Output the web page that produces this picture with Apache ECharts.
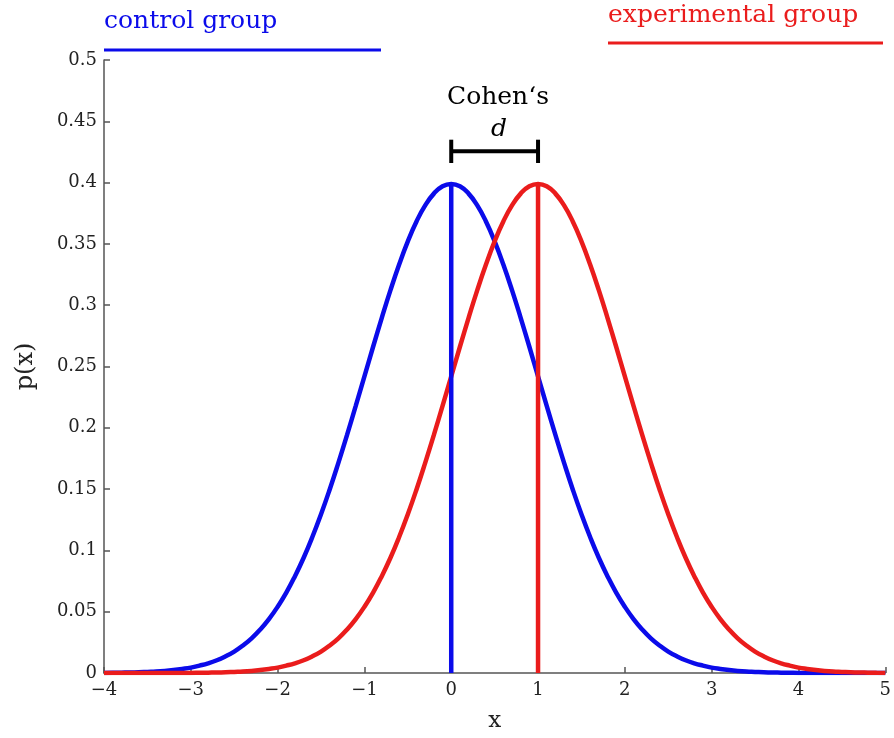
<!DOCTYPE html>
<html>
<head>
<meta charset="utf-8">
<script src="https://cdn.jsdelivr.net/npm/echarts@6/dist/echarts.min.js"></script>
<style>
html, body { margin: 0; padding: 0; background: #fff; }
#main { width: 894px; height: 738px; }
</style>
</head>
<body>
<div id="main"></div>
<script>
// x positions of the sampled curve points
var xValues = [-4, -3.9, -3.8, -3.7, -3.6, -3.5, -3.4, -3.3, -3.2, -3.1,
	-3, -2.9, -2.8, -2.7, -2.6, -2.5, -2.4, -2.3, -2.2, -2.1,
	-2, -1.9, -1.8, -1.7, -1.6, -1.5, -1.4, -1.3, -1.2, -1.1,
	-1, -0.9, -0.8, -0.7, -0.6, -0.5, -0.4, -0.3, -0.2, -0.1,
	0, 0.1, 0.2, 0.3, 0.4, 0.5, 0.6, 0.7, 0.8, 0.9,
	1, 1.1, 1.2, 1.3, 1.4, 1.5, 1.6, 1.7, 1.8, 1.9,
	2, 2.1, 2.2, 2.3, 2.4, 2.5, 2.6, 2.7, 2.8, 2.9,
	3, 3.1, 3.2, 3.3, 3.4, 3.5, 3.6, 3.7, 3.8, 3.9,
	4, 4.1, 4.2, 4.3, 4.4, 4.5, 4.6, 4.7, 4.8, 4.9, 5];
// control group p(x)
var controlValues = [0.0001, 0.0002, 0.0003, 0.0004, 0.0006, 0.0009, 0.0012, 0.0017, 0.0024, 0.0033,
	0.0044, 0.0060, 0.0079, 0.0104, 0.0136, 0.0175, 0.0224, 0.0283, 0.0355, 0.0440,
	0.0540, 0.0656, 0.0790, 0.0940, 0.1109, 0.1295, 0.1497, 0.1714, 0.1942, 0.2179,
	0.2420, 0.2661, 0.2897, 0.3123, 0.3332, 0.3521, 0.3683, 0.3814, 0.3910, 0.3970,
	0.3989, 0.3970, 0.3910, 0.3814, 0.3683, 0.3521, 0.3332, 0.3123, 0.2897, 0.2661,
	0.2420, 0.2179, 0.1942, 0.1714, 0.1497, 0.1295, 0.1109, 0.0940, 0.0790, 0.0656,
	0.0540, 0.0440, 0.0355, 0.0283, 0.0224, 0.0175, 0.0136, 0.0104, 0.0079, 0.0060,
	0.0044, 0.0033, 0.0024, 0.0017, 0.0012, 0.0009, 0.0006, 0.0004, 0.0003, 0.0002,
	0.0001, 0.0001, 0.0001, 0.0000, 0.0000, 0.0000, 0.0000, 0.0000, 0.0000, 0.0000, 0.0000];
// experimental group p(x)
var experimentalValues = [0.0000, 0.0000, 0.0000, 0.0000, 0.0000, 0.0000, 0.0000, 0.0000, 0.0001, 0.0001,
	0.0001, 0.0002, 0.0003, 0.0004, 0.0006, 0.0009, 0.0012, 0.0017, 0.0024, 0.0033,
	0.0044, 0.0060, 0.0079, 0.0104, 0.0136, 0.0175, 0.0224, 0.0283, 0.0355, 0.0440,
	0.0540, 0.0656, 0.0790, 0.0940, 0.1109, 0.1295, 0.1497, 0.1714, 0.1942, 0.2179,
	0.2420, 0.2661, 0.2897, 0.3123, 0.3332, 0.3521, 0.3683, 0.3814, 0.3910, 0.3970,
	0.3989, 0.3970, 0.3910, 0.3814, 0.3683, 0.3521, 0.3332, 0.3123, 0.2897, 0.2661,
	0.2420, 0.2179, 0.1942, 0.1714, 0.1497, 0.1295, 0.1109, 0.0940, 0.0790, 0.0656,
	0.0540, 0.0440, 0.0355, 0.0283, 0.0224, 0.0175, 0.0136, 0.0104, 0.0079, 0.0060,
	0.0044, 0.0033, 0.0024, 0.0017, 0.0012, 0.0009, 0.0006, 0.0004, 0.0003, 0.0002, 0.0001];
var controlMean = 0;
var experimentalMean = 1;
var peakValue = 0.3989;
// Cohen's d bracket
var bracketY = 0.4256;
var bracketCap = [0.416, 0.435];

var serifFont = "'DejaVu Serif', 'Liberation Serif', serif";
var blue = '#0b0bea';
var red = '#ea1c1c';

var CohenChart = {
	init: function() {
		this.chart = echarts.init(document.getElementById('main'));
		this.chart.setOption(this.buildOption());
	},
	pairs: function(ys) {
		var out = [];
		for(var i = 0; i < xValues.length; i++) {
			out.push([xValues[i], ys[i]]);
		}
		return out;
	},
	minus: function(v) {
		return v < 0 ? '\u2212' + (-v) : String(v);
	},
	buildOption: function() {
		var self = this;
		var axisColor = '#555';
		return {
			animation: false,
			backgroundColor: '#fff',
			grid: { left: 104, right: 6, top: 60, bottom: 60 },
			xAxis: {
				type: 'value', min: -4, max: 5, interval: 1,
				name: 'x', nameLocation: 'middle', nameGap: 37,
				nameTextStyle: { fontFamily: serifFont, fontSize: 23, color: '#222' },
				axisLine: { show: true, onZero: false, lineStyle: { color: axisColor, width: 1.5 } },
				axisTick: { show: true, inside: true, length: 6, lineStyle: { color: axisColor, width: 1.5 } },
				axisLabel: { fontFamily: serifFont, fontSize: 18, color: '#222', margin: 8,
					formatter: function(v) { return self.minus(v); } },
				splitLine: { show: false }
			},
			yAxis: {
				type: 'value', min: 0, max: 0.5, interval: 0.05,
				name: 'p(x)', nameLocation: 'middle', nameGap: 66, nameRotate: 90,
				nameTextStyle: { fontFamily: serifFont, fontSize: 24, color: '#222' },
				axisLine: { show: true, onZero: false, lineStyle: { color: axisColor, width: 1.5 } },
				axisTick: { show: true, inside: true, length: 6, lineStyle: { color: axisColor, width: 1.5 } },
				axisLabel: { fontFamily: serifFont, fontSize: 18, color: '#222', margin: 7,
					formatter: function(v) { return String(+v.toFixed(2)); } },
				splitLine: { show: false }
			},
			series: [{
				name: 'control group', type: 'line', smooth: true, showSymbol: false,
				data: self.pairs(controlValues),
				lineStyle: { color: blue, width: 4.5 }, z: 3
			}, {
				name: 'experimental group', type: 'line', smooth: true, showSymbol: false,
				data: self.pairs(experimentalValues),
				lineStyle: { color: red, width: 4.5 }, z: 4
			}, {
				type: 'line', showSymbol: false,
				data: [[controlMean, 0], [controlMean, peakValue]],
				lineStyle: { color: blue, width: 4.5 }, z: 5
			}, {
				type: 'line', showSymbol: false,
				data: [[experimentalMean, 0], [experimentalMean, peakValue]],
				lineStyle: { color: red, width: 4.5 }, z: 5
			}, {
				type: 'line', showSymbol: false,
				data: [[controlMean, bracketY], [experimentalMean, bracketY]],
				lineStyle: { color: '#000', width: 4 }
			}, {
				type: 'line', showSymbol: false,
				data: [[controlMean, bracketCap[0]], [controlMean, bracketCap[1]]],
				lineStyle: { color: '#000', width: 4 }
			}, {
				type: 'line', showSymbol: false,
				data: [[experimentalMean, bracketCap[0]], [experimentalMean, bracketCap[1]]],
				lineStyle: { color: '#000', width: 4 }
			}],
			graphic: [
				//图例文字和线
				{ type: 'text', left: 104, top: 9, style: { text: 'control group', fill: blue, font: '25px ' + serifFont } },
				{ type: 'line', shape: { x1: 104, y1: 50, x2: 381, y2: 50 }, style: { stroke: blue, lineWidth: 3 } },
				{ type: 'text', left: 608, top: 3, style: { text: 'experimental group', fill: red, font: '25px ' + serifFont } },
				{ type: 'line', shape: { x1: 608, y1: 43, x2: 883, y2: 43 }, style: { stroke: red, lineWidth: 3 } },
				//Cohen's d 标注
				{ type: 'text', x: 498, y: 97, style: { text: 'Cohen\u2018s', fill: '#000', font: '25px ' + serifFont, align: 'center', verticalAlign: 'middle' } },
				{ type: 'text', x: 499, y: 129, style: { text: 'd', fill: '#000', font: 'italic 25px ' + serifFont, align: 'center', verticalAlign: 'middle' } }
			]
		};
	}
};
CohenChart.init();
</script>
</body>
</html>
